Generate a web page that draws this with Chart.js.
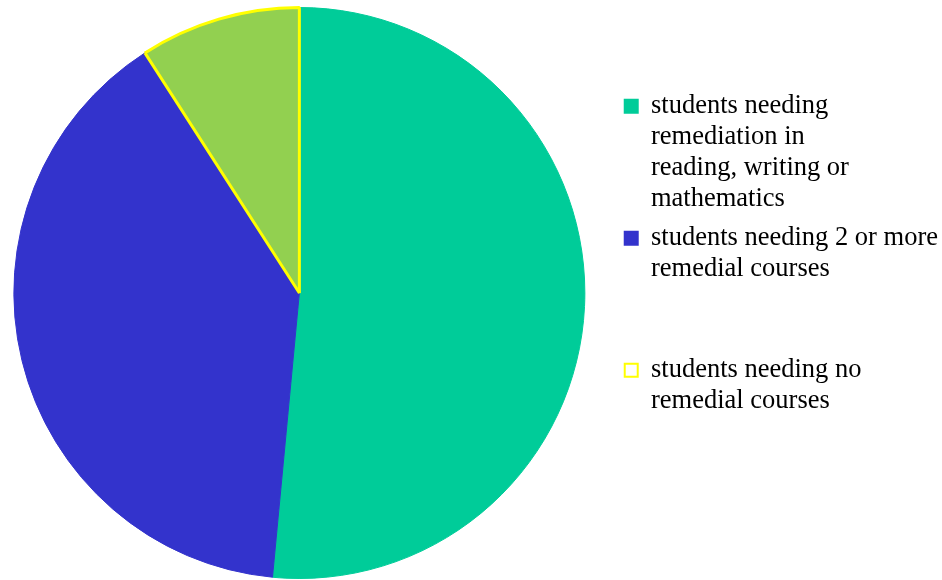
<!DOCTYPE html>
<html>
<head>
<meta charset="utf-8">
<script src="https://cdn.jsdelivr.net/npm/chart.js@4"></script>
<style>
  html, body { margin: 0; padding: 0; background: #fff; }
  #wrap { width: 942px; height: 580px; }
</style>
</head>
<body>
<div id="wrap"><canvas id="PieChart"></canvas></div>
<script>
// data (share of students, %)
var labels = [
    ['students needing', 'remediation in', 'reading, writing or', 'mathematics'],
    ['students needing 2 or more', 'remedial courses', '', ''],
    ['students needing no', 'remedial courses', '', '']
];
var values = [51.5, 39.4, 9.1];
var fillColors = ['#00CC99', '#3333CC', '#92D050'];
var edgeColors = ['#00CC99', '#3333CC', '#FFFF00'];
var legendFills = ['#00CC99', '#3333CC', '#FFFFFF'];

// legend a bit higher, pie a bit further left than the default layout puts them
var layoutNudge = {
    id: 'layoutNudge',
    afterLayout: function (chart) {
        chart.legend.top -= 6;
        chart.legend.bottom -= 6;
        chart.chartArea.left -= 18;
        chart.chartArea.width += 18;
    }
};

var ctx = document.getElementById('PieChart');
var myPie = new Chart(ctx, {
    type: 'pie',
    data: {
        labels: labels,
        datasets: [{
            data: values,
            backgroundColor: fillColors,
            borderColor: edgeColors,
            borderWidth: [1, 1, 3]
        }]
    },
    options: {
        responsive: true,
        maintainAspectRatio: false,
        animation: false,
        layout: { padding: { top: 6, bottom: 0, left: 0, right: -6 } },
        plugins: {
            tooltip: { enabled: false },
            legend: {
                position: 'right',
                labels: {
                    color: '#000',
                    font: { family: '"Liberation Serif", "Times New Roman", serif', size: 26.5, lineHeight: 1.17 },
                    boxWidth: 13,
                    boxHeight: 13,
                    padding: 8,
                    generateLabels: function (chart) {
                        return labels.map(function (t, i) {
                            return {
                                text: t,
                                fillStyle: legendFills[i],
                                strokeStyle: edgeColors[i],
                                lineWidth: 2,
                                fontColor: '#000',
                                hidden: false,
                                index: i
                            };
                        });
                    }
                }
            }
        }
    },
    plugins: [layoutNudge]
});
</script>
</body>
</html>
